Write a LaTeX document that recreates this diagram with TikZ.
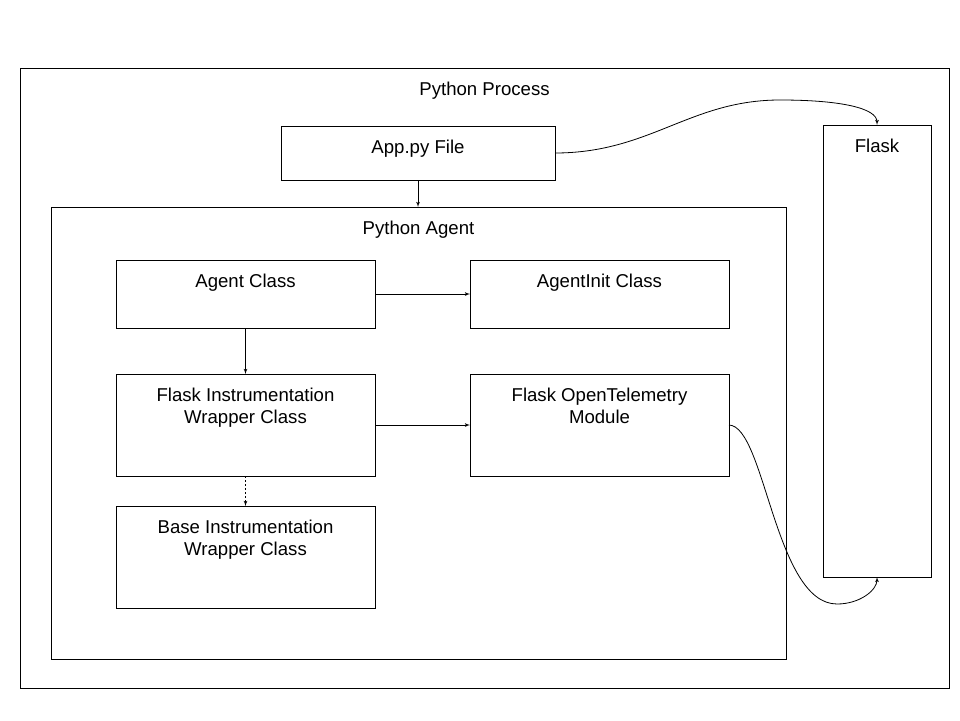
\documentclass[tikz,border=0pt]{standalone}
\usepackage{fontspec}
\setmainfont{Liberation Sans}
\usetikzlibrary{arrows,positioning,shapes}

\begin{document}
\begin{tikzpicture}[x=1pt,y=-1pt]
		\tikzstyle{block} = [rectangle, draw, line width=1pt, outer sep=0pt, minimum width=259pt, minimum height=68pt]
		\tikzstyle{tall} = [block, minimum height=102pt]
		\tikzstyle{boxtitle} = [anchor=north, inner sep=0pt, yshift=-14pt, align=center, font=\fontsize{18.6}{22}\selectfont]
		\tikzstyle{arrow} = [draw, line width=0.8pt, -latex']
		\useasboundingbox (0,0) rectangle (960,720);
		\node [block, anchor=north west, minimum width=929pt, minimum height=620pt, label={[boxtitle]north:Python Process}] (process) at (20,68) {};
		\node [block, anchor=north west, minimum width=735pt, minimum height=452pt, label={[boxtitle]north:Python Agent}] (agent) at (51,207) {};
		\node [block, anchor=north west, minimum width=274pt, minimum height=54pt, label={[boxtitle]north:App.py File}] (app) at (281,126) {};
		\node [block, anchor=north west, minimum width=108pt, minimum height=452pt, label={[boxtitle]north:Flask}] (flask) at (823,125) {};
		\node [block, anchor=north west, label={[boxtitle]north:Agent Class}] (agentcls) at (116,260) {};
		\node [block, right=95pt of agentcls, label={[boxtitle]north:AgentInit Class}] (agentinit) {};
		\node [tall, below=46pt of agentcls, label={[boxtitle]north:{Flask Instrumentation\\Wrapper Class}}] (flaskwrap) {};
		\node [tall, below=46pt of agentinit, label={[boxtitle]north:{Flask OpenTelemetry\\Module}}] (flaskotel) {};
		\node [tall, below=30pt of flaskwrap, label={[boxtitle]north:{Base Instrumentation\\Wrapper Class}}] (base) {};
		\coordinate (crest) at (780,100);
		\coordinate (trough) at (837,604);

		\path[arrow] (app.south) -- (app.south |- agent.north);
		\path[arrow] (agentcls.east) -- (agentinit.west);
		\path[arrow] (agentcls.south) -- (flaskwrap.north);
		\path[arrow] (flaskwrap.east) -- (flaskotel.west);
		\path[arrow, dash pattern=on 2pt off 2pt] (flaskwrap.south) -- (base.north);
		\path[arrow] (app.east) .. controls (650,153) and (690,100) .. (crest) .. controls (840,100) and (877,108) .. (flask.north);
		\path[arrow] (flaskotel.east) .. controls (765,426) and (775,604) .. (trough) .. controls (860,604) and (877,590) .. (flask.south);
	\end{tikzpicture}
\end{document}
